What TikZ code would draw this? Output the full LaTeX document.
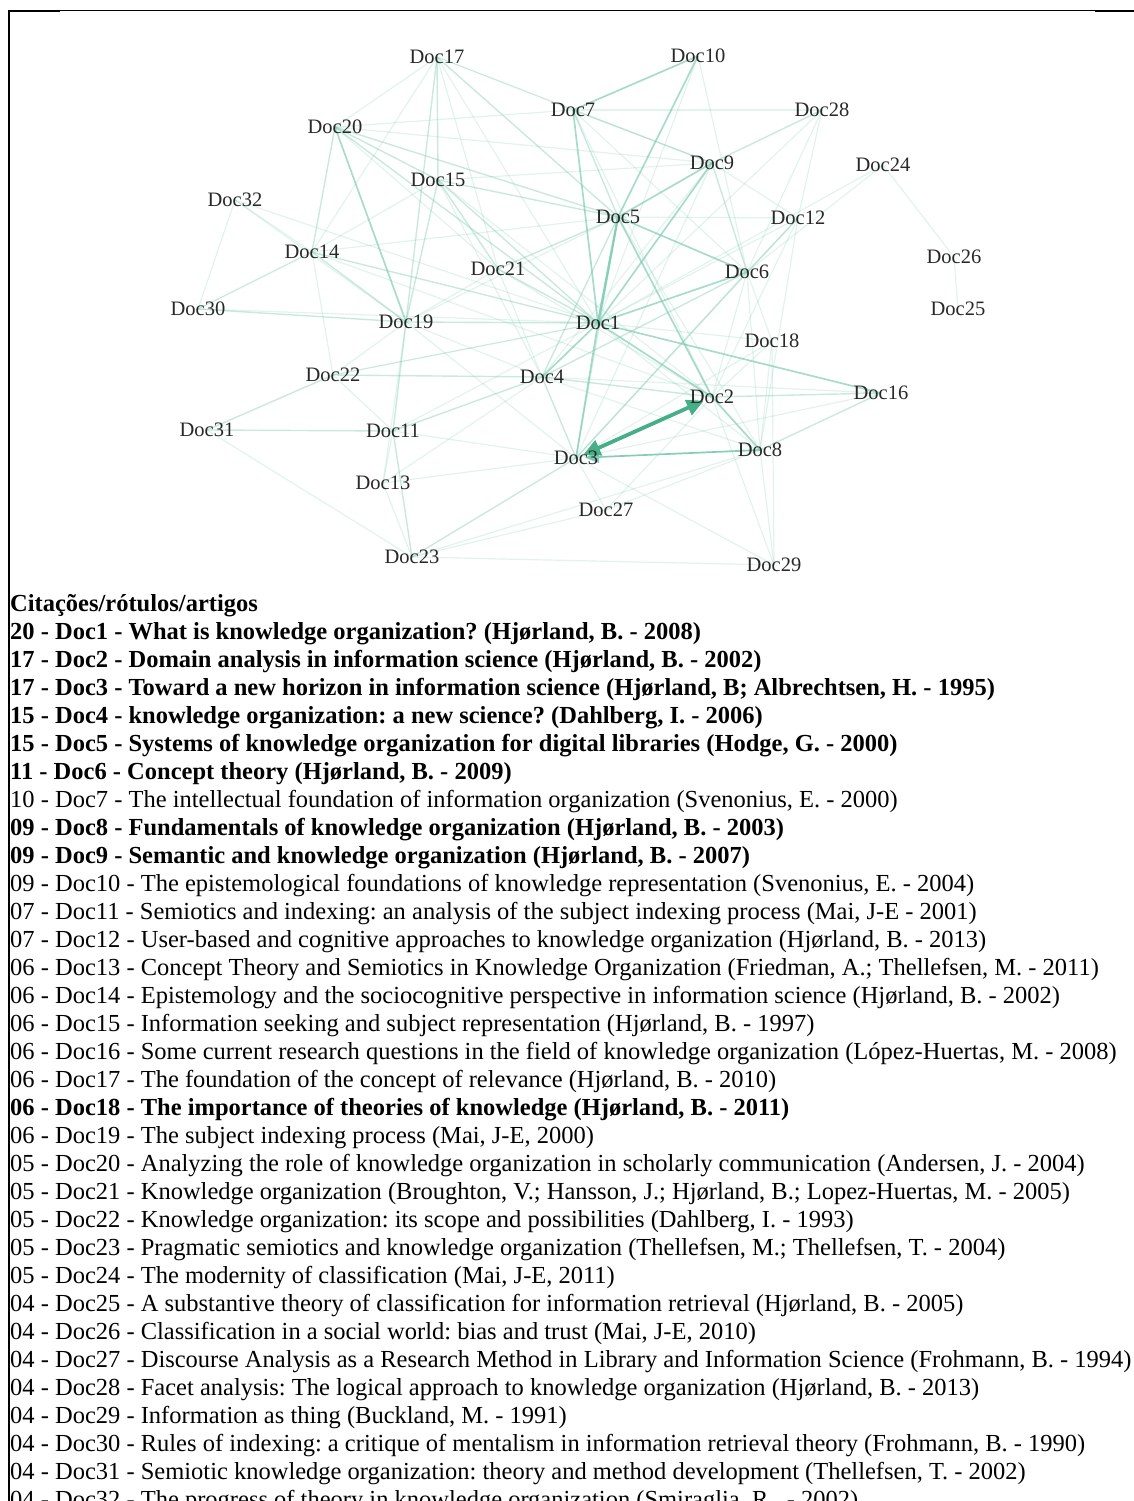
\documentclass[tikz,border=0pt]{standalone}
\usepackage{fontspec}
\setmainfont{Liberation Serif}
\usetikzlibrary{backgrounds,arrows.meta}
\frenchspacing

\definecolor{edgeteal}{RGB}{120,200,175}
\definecolor{arrowgreen}{RGB}{70,175,135}
\definecolor{labelgray}{RGB}{40,40,40}

\begin{document}
\begin{tikzpicture}[x=1pt,y=-1pt,
  doc/.style={font=\fontsize{20.5}{22}\selectfont, text=labelgray, inner sep=0pt},
  faint/.style={draw=edgeteal, opacity=0.22, line width=1.2pt},
  light/.style={draw=edgeteal, opacity=0.4, line width=1.4pt},
  medium/.style={draw=edgeteal, opacity=0.65, line width=1.7pt},
  strong/.style={draw=edgeteal, opacity=0.85, line width=2.3pt},
  listline/.style={anchor=base west, inner sep=0pt, font=\fontsize{24.5}{28}\selectfont},
  frameline/.style={draw=black, line cap=butt},
]
\useasboundingbox (0,0) rectangle (1134,1501);

% page frame
\draw[frameline, line width=1.7pt] (9,11) -- (9,1501);
\draw[frameline, line width=1pt] (8,11) -- (1134,11);
\draw[frameline, line width=2.2pt] (8,11.4) -- (60,11.4);
\draw[frameline, line width=2.2pt] (1095,11.4) -- (1134,11.4);

% document nodes
\node[doc] (d1)  at (598,323) {Doc1};
\node[doc] (d2)  at (712,397) {Doc2};
\node[doc] (d3)  at (576,458) {Doc3};
\node[doc] (d4)  at (542,377) {Doc4};
\node[doc] (d5)  at (618,217) {Doc5};
\node[doc] (d6)  at (747,272) {Doc6};
\node[doc] (d7)  at (573,110) {Doc7};
\node[doc] (d8)  at (760,450) {Doc8};
\node[doc] (d9)  at (712,163) {Doc9};
\node[doc] (d10) at (698,56)  {Doc10};
\node[doc] (d11) at (393,431) {Doc11};
\node[doc] (d12) at (798,218) {Doc12};
\node[doc] (d13) at (383,483) {Doc13};
\node[doc] (d14) at (312,252) {Doc14};
\node[doc] (d15) at (438,180) {Doc15};
\node[doc] (d16) at (881,393) {Doc16};
\node[doc] (d17) at (437,57)  {Doc17};
\node[doc] (d18) at (772,341) {Doc18};
\node[doc] (d19) at (406,322) {Doc19};
\node[doc] (d20) at (335,127) {Doc20};
\node[doc] (d21) at (498,269) {Doc21};
\node[doc] (d22) at (333,375) {Doc22};
\node[doc] (d23) at (412,557) {Doc23};
\node[doc] (d24) at (883,165) {Doc24};
\node[doc] (d25) at (958,309) {Doc25};
\node[doc] (d26) at (954,257) {Doc26};
\node[doc] (d27) at (606,510) {Doc27};
\node[doc] (d28) at (822,110) {Doc28};
\node[doc] (d29) at (774,565) {Doc29};
\node[doc] (d30) at (198,309) {Doc30};
\node[doc] (d31) at (207,430) {Doc31};
\node[doc] (d32) at (235,200) {Doc32};

\begin{scope}[on background layer]
  % weak co-citation links
  \foreach \a/\b in {d17/d20,d17/d21,d17/d1,d17/d9,d17/d7,d17/d14,
    d20/d21,d20/d9,d20/d7,d15/d14,d15/d4,d15/d2,d15/d9,
    d32/d14,d32/d19,d32/d30,d32/d1,d14/d30,d14/d5,d14/d22,d14/d2,
    d30/d1,d30/d14,d21/d4,d21/d19,d21/d2,d7/d6,d7/d28,d7/d2,
    d10/d6,d10/d1,d28/d12,d28/d6,d28/d1,d9/d4,d9/d3,d9/d12,
    d24/d6,d24/d26,d24/d1,d26/d25,d5/d19,d5/d12,d5/d8,
    d12/d1,d12/d8,d12/d2,d12/d3,d6/d2,d6/d8,d6/d18,
    d19/d13,d19/d22,d19/d4,d19/d3,d1/d8,d1/d18,d1/d11,d1/d22,
    d18/d29,d18/d2,d18/d3,d18/d8,d22/d1,d22/d11,d4/d8,d4/d13,
    d2/d27,d2/d29,d16/d3,d16/d4,d31/d23,d11/d13,d11/d3,
    d8/d29,d8/d23,d8/d27,d3/d27,d3/d29,d3/d13,d13/d23,d23/d27,d23/d29}
    \draw[faint] (\a.center) -- (\b.center);
  % moderate links
  \foreach \a/\b in {d17/d15,d17/d19,d17/d5,d20/d15,d20/d5,d20/d1,
    d20/d14,d15/d19,d15/d21,d15/d5,d15/d1,d14/d19,d21/d1,d21/d5,
    d7/d9,d7/d5,d28/d9,d9/d6,d5/d3,d12/d6,d6/d3,d19/d11,
    d22/d4,d22/d31,d4/d3,d4/d2,d2/d16,d16/d8,d31/d11,d11/d4,
    d11/d23,d23/d3,d6/d4,d5/d4,d30/d19,d14/d1,d19/d1}
    \draw[light] (\a.center) -- (\b.center);
  % strong links
  \foreach \a/\b in {d7/d1,d10/d7,d10/d5,d9/d5,d9/d1,d5/d6,d5/d2,
    d1/d2,d1/d3,d4/d1,d2/d8,d1/d16,d6/d1,d20/d19}
    \draw[medium] (\a.center) -- (\b.center);
  \draw[strong] (d5.center) -- (d1.center);
  % directed links
  \draw[medium, opacity=0.9, -{Triangle[length=14pt,width=12pt]}, shorten >=9pt]
    (d8.center) -- (d3.center);
  \draw[draw=arrowgreen, line width=3.8pt,
    {Triangle[length=17pt,width=16pt]}-{Triangle[length=17pt,width=16pt]},
    shorten <=8pt, shorten >=9pt] (d3.center) -- (d2.center);
\end{scope}

% list of cited documents
\node[listline] (l0)  at (10,611)  {\bfseries Citações/rótulos/artigos};
\node[listline] (l1)  at (10,639)  {\bfseries 20 - Doc1 - What is knowledge organization? (Hjørland, B. - 2008)};
\node[listline] (l2)  at (10,667)  {\bfseries 17 - Doc2 - Domain analysis in information science (Hjørland, B. - 2002)};
\node[listline] (l3)  at (10,695)  {\bfseries 17 - Doc3 - Toward a new horizon in information science (Hjørland, B; Albrechtsen, H. - 1995)};
\node[listline] (l4)  at (10,723)  {\bfseries 15 - Doc4 - knowledge organization: a new science? (Dahlberg, I. - 2006)};
\node[listline] (l5)  at (10,751)  {\bfseries 15 - Doc5 - Systems of knowledge organization for digital libraries (Hodge, G. - 2000)};
\node[listline] (l6)  at (10,779)  {\bfseries 11 - Doc6 - Concept theory (Hjørland, B. - 2009)};
\node[listline] (l7)  at (10,807)  {10 - Doc7 - The intellectual foundation of information organization (Svenonius, E. - 2000)};
\node[listline] (l8)  at (10,835)  {\bfseries 09 - Doc8 - Fundamentals of knowledge organization (Hjørland, B. - 2003)};
\node[listline] (l9)  at (10,863)  {\bfseries 09 - Doc9 - Semantic and knowledge organization (Hjørland, B. - 2007)};
\node[listline] (l10) at (10,891)  {09 - Doc10 - The epistemological foundations of knowledge representation (Svenonius, E. - 2004)};
\node[listline] (l11) at (10,919)  {07 - Doc11 - Semiotics and indexing: an analysis of the subject indexing process (Mai, J-E - 2001)};
\node[listline] (l12) at (10,947)  {07 - Doc12 - User-based and cognitive approaches to knowledge organization (Hjørland, B. - 2013)};
\node[listline] (l13) at (10,975)  {06 - Doc13 - Concept Theory and Semiotics in Knowledge Organization (Friedman, A.; Thellefsen, M. - 2011)};
\node[listline] (l14) at (10,1003) {06 - Doc14 - Epistemology and the sociocognitive perspective in information science (Hjørland, B. - 2002)};
\node[listline] (l15) at (10,1031) {06 - Doc15 - Information seeking and subject representation (Hjørland, B. - 1997)};
\node[listline] (l16) at (10,1059) {06 - Doc16 - Some current research questions in the field of knowledge organization (López-Huertas, M. - 2008)};
\node[listline] (l17) at (10,1087) {06 - Doc17 - The foundation of the concept of relevance (Hjørland, B. - 2010)};
\node[listline] (l18) at (10,1115) {\bfseries 06 - Doc18 - The importance of theories of knowledge (Hjørland, B. - 2011)};
\node[listline] (l19) at (10,1143) {06 - Doc19 - The subject indexing process (Mai, J-E, 2000)};
\node[listline] (l20) at (10,1171) {05 - Doc20 - Analyzing the role of knowledge organization in scholarly communication (Andersen, J. - 2004)};
\node[listline] (l21) at (10,1199) {05 - Doc21 - Knowledge organization (Broughton, V.; Hansson, J.; Hjørland, B.; Lopez-Huertas, M. - 2005)};
\node[listline] (l22) at (10,1227) {05 - Doc22 - Knowledge organization: its scope and possibilities (Dahlberg, I. - 1993)};
\node[listline] (l23) at (10,1255) {05 - Doc23 - Pragmatic semiotics and knowledge organization (Thellefsen, M.; Thellefsen, T. - 2004)};
\node[listline] (l24) at (10,1283) {05 - Doc24 - The modernity of classification (Mai, J-E, 2011)};
\node[listline] (l25) at (10,1311) {04 - Doc25 - A substantive theory of classification for information retrieval (Hjørland, B. - 2005)};
\node[listline] (l26) at (10,1339) {04 - Doc26 - Classification in a social world: bias and trust (Mai, J-E, 2010)};
\node[listline] (l27) at (10,1367) {04 - Doc27 - Discourse Analysis as a Research Method in Library and Information Science (Frohmann, B. - 1994)};
\node[listline] (l28) at (10,1395) {04 - Doc28 - Facet analysis: The logical approach to knowledge organization (Hjørland, B. - 2013)};
\node[listline] (l29) at (10,1423) {04 - Doc29 - Information as thing (Buckland, M. - 1991)};
\node[listline] (l30) at (10,1451) {04 - Doc30 - Rules of indexing: a critique of mentalism in information retrieval theory (Frohmann, B. - 1990)};
\node[listline] (l31) at (10,1479) {04 - Doc31 - Semiotic knowledge organization: theory and method development (Thellefsen, T. - 2002)};
\node[listline] (l32) at (10,1507) {04 - Doc32 - The progress of theory in knowledge organization (Smiraglia, R.. - 2002)};
\end{tikzpicture}
\end{document}
